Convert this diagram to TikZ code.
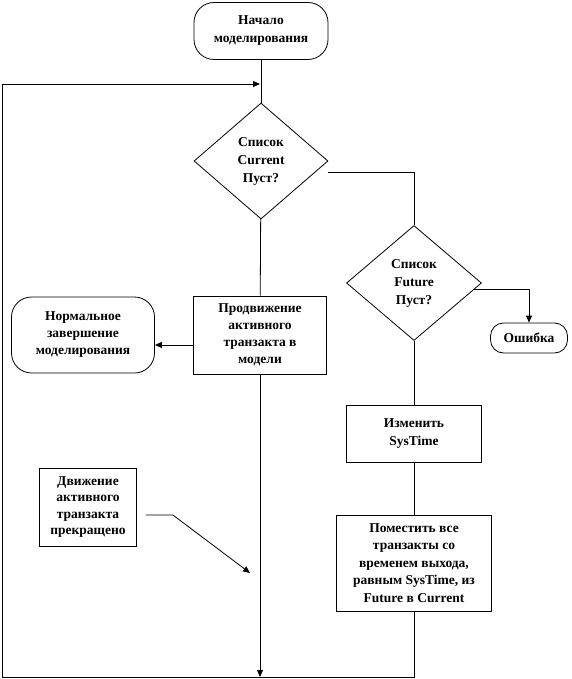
\documentclass[tikz,border=0pt]{standalone}
\usepackage{fontspec}
\setmainfont{Liberation Serif}
\usetikzlibrary{shapes.geometric,arrows.meta}
\begin{document}
\begin{tikzpicture}[x=1pt,y=-1pt,line width=0.8pt,
  every node/.style={font=\fontsize{13.5}{18}\selectfont\bfseries,align=center,inner sep=0pt},
  term/.style={draw,rounded corners=20pt},
  proc/.style={draw},
  cond/.style={draw,diamond},
  arr/.style={-{Triangle[length=7pt,width=6pt]}}]
\useasboundingbox (0,0) rectangle (571,679);
\node[term,minimum width=134pt,minimum height=57pt] (start) at (261,31) {Начало\\моделирования};
\node[cond,minimum width=134pt,minimum height=116pt] (d1) at (261,161) {Список\\Current\\Пуст?};
\node[cond,minimum width=135pt,minimum height=115pt] (d2) at (414,283) {Список\\Future\\Пуст?};
\node[term,rounded corners=13pt,minimum width=77pt,minimum height=30pt] (err) at (529,338) {Ошибка};
\node[proc,minimum width=133pt,minimum height=78pt,font=\fontsize{13.5}{17}\selectfont\bfseries] (move) at (260,335) {Продвижение\\активного\\транзакта в\\модели};
\node[term,minimum width=143pt,minimum height=76pt,font=\fontsize{13.5}{17}\selectfont\bfseries] (norm) at (83,335) {Нормальное\\завершение\\моделирования};
\node[proc,minimum width=135pt,minimum height=57pt] (chg) at (414,434) {Изменить\\SysTime};
\node[proc,minimum width=155pt,minimum height=96pt,font=\fontsize{13.5}{17.5}\selectfont\bfseries] (put) at (414,563) {Поместить все\\транзакты со\\временем выхода,\\равным SysTime, из\\Future в Current};
\node[proc,minimum width=97pt,minimum height=78pt,font=\fontsize{13.5}{16.5}\selectfont\bfseries] (stop) at (88,507) {Движение\\активного\\транзакта\\прекращено};
\coordinate (merge) at (260,84);
\coordinate (lowleft) at (2,677);
\coordinate (hit) at (250,573);
% plain links down the two columns
\foreach \a/\b in {start/d1,d1/move,d2/chg,chg/put} \draw (\a) -- (\b);
\draw ([yshift=-11pt]d1.east) -| (d2.north);
\draw[arr] (d2.-6) -| (err.north);
\draw[arr] ([yshift=-10pt]move.west) -- ([yshift=-10pt]norm.east);
\draw[arr] (move.south) -- (move.south |- lowleft);
\draw[arr] (put.south) |- (lowleft) |- (merge);
\draw[arr] ([xshift=9pt,yshift=-8pt]stop.east) -- ++(27,0) -- (hit);
\end{tikzpicture}
\end{document}
